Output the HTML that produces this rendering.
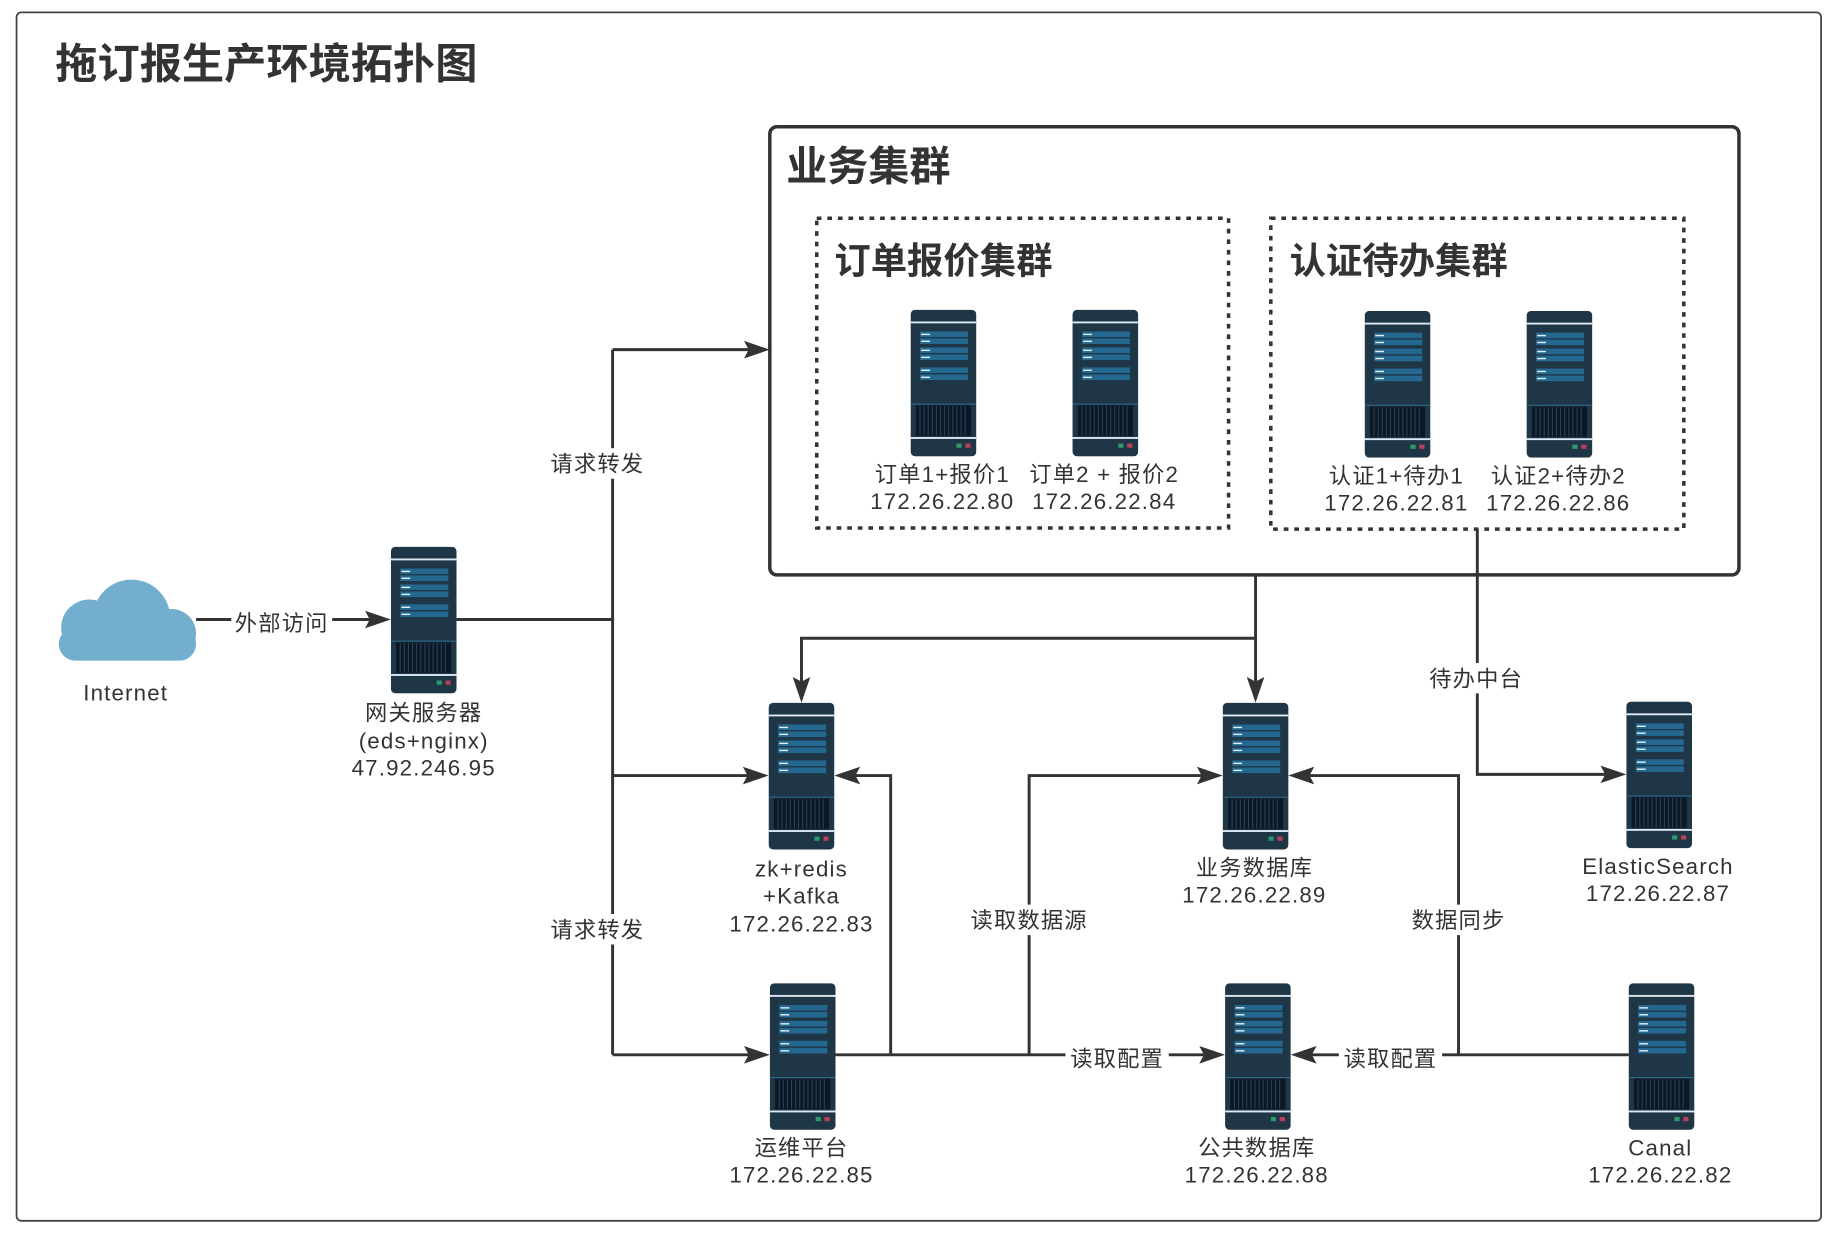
<!DOCTYPE html>
<html><head><meta charset="utf-8"><style>
html,body{margin:0;padding:0;background:#fff;width:1840px;height:1239px;overflow:hidden}
svg{display:block}
text{font-family:"Liberation Sans","Noto Sans CJK SC",sans-serif;fill:#333}
.t{font-size:19px;text-anchor:middle;letter-spacing:1px}
.b{font-weight:bold}
.l{fill:none;stroke:#333;stroke-width:2.5}
</style></head><body>
<svg width="1840" height="1239" viewBox="0 0 1568 1056" xmlns="http://www.w3.org/2000/svg">
<defs>
<symbol id="srv" viewBox="0 0 56 125" width="56" height="125">
<rect x="0" y="0" width="56" height="125" rx="4" fill="#1f3647"/>
<rect x="0" y="10" width="56" height="1.6" fill="#dfe9f2"/>
<g fill="#246890">
<rect x="8" y="18.5" width="41" height="4.8"/><rect x="8" y="24.4" width="41" height="4.8"/>
<rect x="8" y="32.1" width="41" height="4.8"/><rect x="8" y="38.1" width="41" height="4.8"/>
<rect x="8" y="49.1" width="41" height="4.8"/><rect x="8" y="55.1" width="41" height="4.8"/>
</g>
<g fill="#e6eef5">
<rect x="9" y="20.4" width="7.5" height="1.2"/><rect x="9" y="26.3" width="7.5" height="1.2"/>
<rect x="9" y="34" width="7.5" height="1.2"/><rect x="9" y="40" width="7.5" height="1.2"/>
<rect x="9" y="51" width="7.5" height="1.2"/><rect x="9" y="57" width="7.5" height="1.2"/>
</g>
<rect x="0" y="80" width="56" height="0.8" fill="#2f6f95"/>
<rect x="4.5" y="81.5" width="47" height="26" fill="#0b1826"/>
<g stroke="#2a4458" stroke-width="0.9">
<path d="M8 82v25M11.5 82v25M15 82v25M18.5 82v25M22 82v25M25.5 82v25M29 82v25M32.5 82v25M36 82v25M39.5 82v25M43 82v25M46.5 82v25"/>
</g>
<rect x="0" y="108.5" width="56" height="1.6" fill="#dfe9f2"/>
<rect x="39" y="114" width="4.4" height="3.6" fill="#2d9a6c"/>
<rect x="46.6" y="114" width="4.4" height="3.6" fill="#b8405a"/>
</symbol>
</defs>
<rect x="14" y="10.5" width="1538" height="1030" rx="4" fill="none" stroke="#444" stroke-width="1.5"/>
<text x="47" y="67" class="b" style="font-size:36px">拖订报生产环境拓扑图</text>

<rect x="656" y="108" width="826" height="382" rx="6" fill="none" stroke="#333" stroke-width="3"/>
<text x="670" y="154" class="b" style="font-size:35px">业务集群</text>
<rect x="696" y="186" width="351" height="264" fill="none" stroke="#333" stroke-width="3" stroke-dasharray="4,5"/>
<text x="711" y="233" class="b" style="font-size:31px">订单报价集群</text>
<rect x="1083" y="186" width="352" height="265" fill="none" stroke="#333" stroke-width="3" stroke-dasharray="4,5"/>
<text x="1099" y="233" class="b" style="font-size:31px">认证待办集群</text>

<g class="l">
<path d="M167 528H318"/>
<path d="M389 528H522M522 298V899M522 298H640M522 661H640M522 899H640"/>
<path d="M1070 490V584M1070 544H683V584"/>
<path d="M1259 451V660H1371"/>
<path d="M712 899H1028M759 899V661H726M877 899V661H1027"/>
<path d="M1388 899H1115M1243 899V661H1113"/>
</g>
<g fill="#333">
<path d="M333 528l-22-7.5l4 7.5l-4 7.5z"/>
<path d="M656 298l-22-7.5l4 7.5l-4 7.5z"/>
<path d="M655 661l-22-7.5l4 7.5l-4 7.5z"/>
<path d="M656 899l-22-7.5l4 7.5l-4 7.5z"/>
<path d="M1070 599l-7.5-22l7.5 4l7.5-4z"/>
<path d="M683 599l-7.5-22l7.5 4l7.5-4z"/>
<path d="M1386 660l-22-7.5l4 7.5l-4 7.5z"/>
<path d="M1044 899l-22-7.5l4 7.5l-4 7.5z"/>
<path d="M711 661l22-7.5l-4 7.5l4 7.5z"/>
<path d="M1042 661l-22-7.5l4 7.5l-4 7.5z"/>
<path d="M1100 899l22-7.5l-4 7.5l4 7.5z"/>
<path d="M1098 661l22-7.5l-4 7.5l4 7.5z"/>
</g>
<g>
<rect x="197" y="518" width="86" height="24" fill="#fff"/><text x="240" y="538" class="t">外部访问</text>
<rect x="465" y="382" width="88" height="26" fill="#fff"/><text x="509" y="402" class="t">请求转发</text>
<rect x="465" y="779" width="88" height="26" fill="#fff"/><text x="509" y="799" class="t">请求转发</text>
<rect x="1214" y="565" width="88" height="26" fill="#fff"/><text x="1258" y="585" class="t">待办中台</text>
<rect x="823" y="771" width="108" height="26" fill="#fff"/><text x="877" y="791" class="t">读取数据源</text>
<rect x="1199" y="771" width="88" height="26" fill="#fff"/><text x="1243" y="791" class="t">数据同步</text>
<rect x="908" y="889" width="88" height="26" fill="#fff"/><text x="952" y="909" class="t">读取配置</text>
<rect x="1141" y="889" width="88" height="26" fill="#fff"/><text x="1185" y="909" class="t">读取配置</text>
</g>

<g fill="#74aecf">
<circle cx="112" cy="527" r="33"/>
<circle cx="76" cy="535" r="24"/>
<circle cx="146" cy="540" r="21"/>
<rect x="50" y="535" width="117" height="28" rx="14"/>
</g>
<text x="107" y="597" class="t">Internet</text>

<use href="#srv" x="333" y="466"/>
<use href="#srv" x="776" y="264"/>
<use href="#srv" x="914" y="264"/>
<use href="#srv" x="1163" y="265"/>
<use href="#srv" x="1301" y="265"/>
<use href="#srv" x="655" y="599"/>
<use href="#srv" x="1042" y="599"/>
<use href="#srv" x="1386" y="598"/>
<use href="#srv" x="656" y="838"/>
<use href="#srv" x="1044" y="838"/>
<use href="#srv" x="1388" y="838"/>

<g>
<text x="361" y="614" class="t">网关服务器</text>
<text x="361" y="638" class="t">(eds+nginx)</text>
<text x="361" y="661" class="t">47.92.246.95</text>
<text x="803" y="411" class="t">订单1+报价1</text>
<text x="803" y="434" class="t">172.26.22.80</text>
<text x="941" y="411" class="t">订单2 + 报价2</text>
<text x="941" y="434" class="t">172.26.22.84</text>
<text x="1190" y="412" class="t">认证1+待办1</text>
<text x="1190" y="435" class="t">172.26.22.81</text>
<text x="1328" y="412" class="t">认证2+待办2</text>
<text x="1328" y="435" class="t">172.26.22.86</text>
<text x="683" y="747" class="t">zk+redis</text>
<text x="683" y="770" class="t">+Kafka</text>
<text x="683" y="794" class="t">172.26.22.83</text>
<text x="1069" y="746" class="t">业务数据库</text>
<text x="1069" y="769" class="t">172.26.22.89</text>
<text x="1413" y="745" class="t">ElasticSearch</text>
<text x="1413" y="768" class="t">172.26.22.87</text>
<text x="683" y="985" class="t">运维平台</text>
<text x="683" y="1008" class="t">172.26.22.85</text>
<text x="1071" y="985" class="t">公共数据库</text>
<text x="1071" y="1008" class="t">172.26.22.88</text>
<text x="1415" y="985" class="t">Canal</text>
<text x="1415" y="1008" class="t">172.26.22.82</text>
</g>
</svg>
</body></html>
